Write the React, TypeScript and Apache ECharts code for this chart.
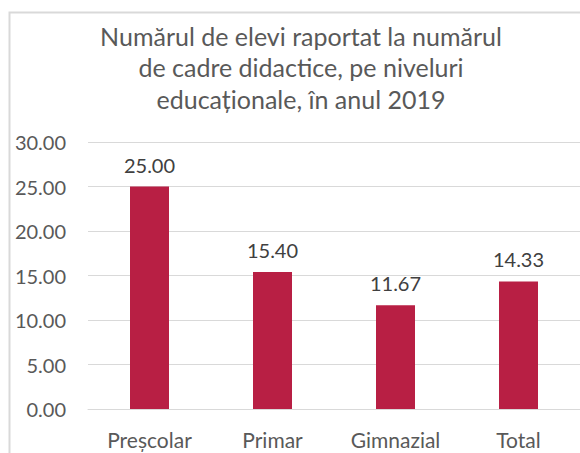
import React, { useEffect, useRef } from "react";
import * as echarts from "echarts";

const titleLines = [
  "Numărul de elevi raportat la numărul",
  "de cadre didactice, pe niveluri",
  "educaționale, în anul 2019",
];
const categories = ["Preșcolar", "Primar", "Gimnazial", "Total"];
const values = [25.0, 15.4, 11.67, 14.33];
const yMin = 0;
const yMax = 30;
const yStep = 5;

export default function App() {
  const ref = useRef<HTMLDivElement>(null);
  useEffect(() => {
    if (!ref.current) return;
    const chart = echarts.init(ref.current, null, { renderer: "svg" });
    const font = "Lato, 'Open Sans', sans-serif";
    chart.setOption({
      animation: false,
      backgroundColor: "#ffffff",
      title: {
        text: titleLines.join("\n"),
        left: 296,
        top: 15,
        textAlign: "center",
        textStyle: {
          fontFamily: font,
          fontSize: 25,
          fontWeight: "normal",
          color: "#595959",
          lineHeight: 31.5,
        },
      },
      graphic: [
        {
          type: "rect",
          shape: { x: 9.5, y: 12.5, width: 640, height: 500 },
          style: { fill: "none", stroke: "#d9d9d9", lineWidth: 2 },
          silent: true,
        },
      ],
      grid: { left: 88, right: -4, top: 142, bottom: 44 },
      xAxis: {
        type: "category",
        data: categories,
        axisLine: { show: true, lineStyle: { color: "#d9d9d9", width: 1 } },
        axisTick: { show: false },
        axisLabel: {
          fontFamily: font,
          fontSize: 21,
          color: "#595959",
          margin: 20,
        },
      },
      yAxis: {
        type: "value",
        min: yMin,
        max: yMax,
        interval: yStep,
        axisLine: { show: false },
        axisTick: { show: false },
        splitLine: { lineStyle: { color: "#d9d9d9", width: 1 } },
        axisLabel: {
          fontFamily: font,
          fontSize: 20,
          color: "#595959",
          margin: 22,
          formatter: (v: number) => v.toFixed(2),
        },
      },
      series: [
        {
          type: "bar",
          data: values,
          barWidth: 39,
          itemStyle: { color: "#b81f44" },
          label: {
            show: true,
            position: "top",
            distance: 12,
            fontFamily: font,
            fontSize: 20,
            color: "#404040",
            formatter: (p: any) => Number(p.value).toFixed(2),
          },
        },
      ],
    });
    return () => chart.dispose();
  }, []);
  return (
    <div
      ref={ref}
      style={{ position: "fixed", left: 0, top: 0, width: 580, height: 453 }}
    />
  );
}
